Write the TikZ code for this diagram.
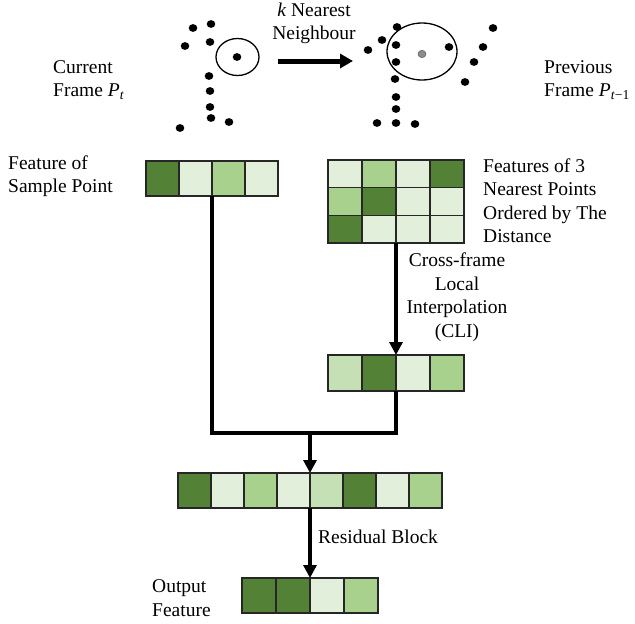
\documentclass[tikz,border=0pt]{standalone}
\usepackage{fontspec}
\setmainfont{Liberation Serif}
\usetikzlibrary{arrows.meta,shapes.geometric}
\definecolor{gdark}{HTML}{538135}
\definecolor{gmed}{HTML}{A9D18E}
\definecolor{glight}{HTML}{E2EFDA}
\definecolor{glmed}{HTML}{C5E0B4}
\begin{document}
\begin{tikzpicture}[x=1pt,y=-1pt,
  cellA/.style={draw=black!85,line width=1.2pt,minimum width=33pt,minimum height=35pt,inner sep=0pt,outer sep=0pt},
  cellB/.style={draw=black!85,line width=1.2pt,minimum width=34pt,minimum height=27.7pt,inner sep=0pt,outer sep=0pt},
  cellC/.style={draw=black!85,line width=1.2pt,minimum width=34pt,minimum height=36pt,inner sep=0pt,outer sep=0pt},
  cellD/.style={draw=black!85,line width=1.2pt,minimum width=34pt,minimum height=35pt,inner sep=0pt,outer sep=0pt},
  pt/.style={ellipse,fill=black,inner sep=0pt,minimum width=8.6pt,minimum height=7.8pt},
  lbl/.style={inner sep=0pt,font=\fontsize{19.5}{23.5}\selectfont},
  conn/.style={line width=3.6pt,line join=miter},
  arr/.style={line width=3.6pt,-{Triangle[width=13pt,length=13pt]}},
]
\useasboundingbox (0,0) rectangle (635,624);
% left point cloud
\node[pt] (a1) at (193,28) {};
\node[pt] (a2) at (211,24) {};
\node[pt] (a3) at (185,46) {};
\node[pt] (a4) at (210,42) {};
\node[pt] (a5) at (237,57) {};
\node[pt] (a6) at (209,76) {};
\node[pt] (a7) at (210,91) {};
\node[pt] (a8) at (210,107) {};
\node[pt] (a9) at (211,118) {};
\node[pt] (a10) at (229,122) {};
\node[pt] (a11) at (180,128) {};
\node[draw,ellipse,line width=1.3pt,minimum width=43pt,minimum height=37pt,inner sep=0pt] (lc) at (237.5,57) {};
% right point cloud
\node[pt] (b1) at (397,27) {};
\node[pt] (b2) at (382,40) {};
\node[pt] (b3) at (396,45) {};
\node[pt] (b4) at (368,50) {};
\node[pt] (b5) at (449,47) {};
\node[ellipse,fill=black!45,draw=black!60,line width=0.6pt,inner sep=0pt,minimum width=8pt,minimum height=7.4pt] (b6) at (422,54) {};
\node[pt] (b7) at (396,62) {};
\node[pt] (b8) at (483,47) {};
\node[pt] (b9) at (493,28) {};
\node[pt] (b10) at (474,62) {};
\node[pt] (b11) at (465,82) {};
\node[pt] (b12) at (395,79) {};
\node[pt] (b13) at (396,97) {};
\node[pt] (b14) at (396,109) {};
\node[pt] (b15) at (377,123) {};
\node[pt] (b16) at (396,123) {};
\node[pt] (b17) at (415,124) {};
\node[draw,ellipse,line width=1.3pt,minimum width=70pt,minimum height=57pt,inner sep=0pt] (rc) at (422,51.5) {};
% kNN arrow
\coordinate (ka) at (278,61);
\coordinate (kb) at (353,61);
\draw[line width=5pt,-{Triangle[width=14pt,length=13pt]}] (ka) -- (kb);
% labels
\node[lbl,align=center] (knn) at (314,23.5) {\textit{k} Nearest\\Neighbour};
\node[lbl,align=left,anchor=west] (cur) at (53,80) {Current\\Frame \textit{P}\textsubscript{\textit{t}}};
\node[lbl,align=left,anchor=west] (prev) at (544,80) {Previous\\Frame \textit{P}\textsubscript{\textit{t}−1}};
\node[lbl,align=left,anchor=west] (fs) at (8,176) {Feature of\\Sample Point};
\node[lbl,align=left,anchor=west] (f3) at (483,200.5) {Features of 3\\Nearest Points\\Ordered by The\\Distance};
\node[lbl,align=center] (cli) at (457,297) {Cross-frame\\Local\\Interpolation\\(CLI)};
\node[lbl,align=left,anchor=west] (rb) at (318,537) {Residual Block};
\node[lbl,align=left,anchor=west] (of) at (152,598) {Output\\Feature};
% sample feature
\node[cellA,fill=gdark] (s1) at (162.5,178.5) {};
\node[cellA,fill=glight] (s2) at (195.5,178.5) {};
\node[cellA,fill=gmed] (s3) at (228.5,178.5) {};
\node[cellA,fill=glight] (s4) at (261.5,178.5) {};
% grid 3x4
\node[cellB,fill=glight] (g11) at (345,173.8) {};
\node[cellB,fill=gmed] (g12) at (379,173.8) {};
\node[cellB,fill=glight] (g13) at (413,173.8) {};
\node[cellB,fill=gdark] (g14) at (447,173.8) {};
\node[cellB,fill=gmed] (g21) at (345,201.5) {};
\node[cellB,fill=gdark] (g22) at (379,201.5) {};
\node[cellB,fill=glight] (g23) at (413,201.5) {};
\node[cellB,fill=glight] (g24) at (447,201.5) {};
\node[cellB,fill=gdark] (g31) at (345,229.2) {};
\node[cellB,fill=glight] (g32) at (379,229.2) {};
\node[cellB,fill=glight] (g33) at (413,229.2) {};
\node[cellB,fill=glight] (g34) at (447,229.2) {};
% CLI output
\node[cellC,fill=glmed] (c1) at (345,373) {};
\node[cellC,fill=gdark] (c2) at (379,373) {};
\node[cellC,fill=glight] (c3) at (413,373) {};
\node[cellC,fill=gmed] (c4) at (447,373) {};
% concatenated
\node[cellA,fill=gdark] (k1) at (194.5,490.5) {};
\node[cellA,fill=glight] (k2) at (227.5,490.5) {};
\node[cellA,fill=gmed] (k3) at (260.5,490.5) {};
\node[cellA,fill=glight] (k4) at (293.5,490.5) {};
\node[cellA,fill=glmed] (k5) at (326.5,490.5) {};
\node[cellA,fill=gdark] (k6) at (359.5,490.5) {};
\node[cellA,fill=glight] (k7) at (392.5,490.5) {};
\node[cellA,fill=gmed] (k8) at (425.5,490.5) {};
% output
\node[cellD,fill=gdark] (o1) at (259,595.5) {};
\node[cellD,fill=gdark] (o2) at (293,595.5) {};
\node[cellD,fill=glight] (o3) at (327,595.5) {};
\node[cellD,fill=gmed] (o4) at (361,595.5) {};
% connectors
\coordinate (j) at (310,433);
\draw[arr] (g32.south east) -- (c2.north east);
\draw[conn] (s2.south east) |- (j) -| (c2.south east);
\draw[arr] (j) -- (k4.north east);
\draw[arr] (k4.south east) -- (o2.north east);
\end{tikzpicture}
\end{document}
